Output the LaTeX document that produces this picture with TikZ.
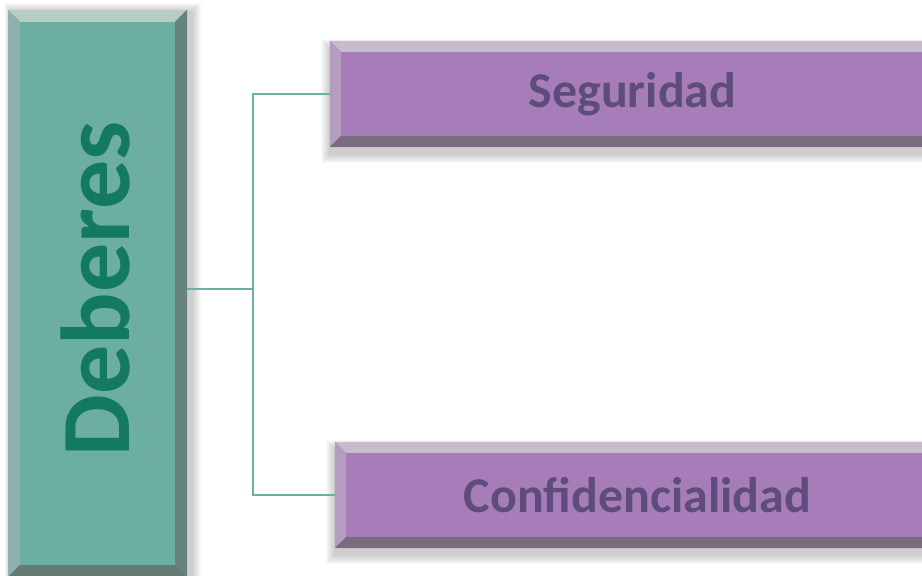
\documentclass[tikz,border=0pt]{standalone}
\usepackage{fontspec}
\setsansfont{Carlito}
\usetikzlibrary{positioning,backgrounds}

\definecolor{tealface}{HTML}{6DAEA2}
\definecolor{tealtop}{HTML}{B7CCC6}
\definecolor{tealleft}{HTML}{8FB1AB}
\definecolor{tealbottom}{HTML}{667A75}
\definecolor{tealright}{HTML}{66847D}
\definecolor{tealtext}{HTML}{137A60}
\definecolor{lilacface}{HTML}{A67DB9}
\definecolor{lilactop}{HTML}{C9BBCF}
\definecolor{lilacleft}{HTML}{B49DC0}
\definecolor{lilacbottom}{HTML}{7A6C7F}
\definecolor{lilactext}{HTML}{5E4C7D}
\definecolor{linkteal}{HTML}{6AB0A4}

% bevel edges: node, depth, top, left, bottom, right
\newcommand\bevel[6]{%
  \fill[#3] (#1.north west) -- (#1.north east) -- ([shift={(-#2,-#2)}]#1.north east) -- ([shift={(#2,-#2)}]#1.north west) -- cycle;
  \fill[#4] (#1.north west) -- (#1.south west) -- ([shift={(#2,#2)}]#1.south west) -- ([shift={(#2,-#2)}]#1.north west) -- cycle;
  \fill[#5] (#1.south west) -- (#1.south east) -- ([shift={(-#2,#2)}]#1.south east) -- ([shift={(#2,#2)}]#1.south west) -- cycle;
  \fill[#6] (#1.north east) -- (#1.south east) -- ([shift={(-#2,#2)}]#1.south east) -- ([shift={(-#2,-#2)}]#1.north east) -- cycle;
}
% soft shadow under a node
\newcommand\softshadow[3]{%
  \begin{pgfonlayer}{background}
    \foreach \s in {1,...,9}
      \fill[black,opacity=.022] ([shift={(#2-\s,#3-\s)}]#1.south west) rectangle ([shift={(#2+\s,#3+\s)}]#1.north east);
  \end{pgfonlayer}
}

\begin{document}
\begin{tikzpicture}[
    x=1pt, y=1pt
    ,every node/.append style={inner sep=0pt}
    ,debbox/.style={fill=tealface, minimum width=179pt, minimum height=567pt}
    ,dutybox/.style={fill=lilacface, minimum width=605pt, minimum height=106pt,
        text=lilactext, font=\sffamily\bfseries\fontsize{50}{60}\selectfont}
    ,link/.style={draw=linkteal, line width=2.4pt}
  ]
  \useasboundingbox (0,0) rectangle (922,576);

  \node [debbox] (deb) at (97.5,282.5) {};
  \node [dutybox] (seg) at (632.5,482) {Seguridad};
  \node [dutybox] (conf) at (637.5,81) {Confidencialidad};

  \softshadow{deb}{5}{-2}
  \softshadow{seg}{0}{-7}
  \softshadow{conf}{0}{-7}

  \bevel{deb}{12}{tealtop}{tealleft}{tealbottom}{tealright}
  \bevel{seg}{11}{lilactop}{lilacleft}{lilacbottom}{lilacbottom}
  \bevel{conf}{11}{lilactop}{lilacleft}{lilacbottom}{lilacbottom}

  \node [rotate=90, text=tealtext, font=\sffamily\bfseries\fontsize{98}{110}\selectfont]
    (debtext) at (95,287) {Deberes};

  % connectors
  \coordinate (fork) at (253,287);
  \draw [link] (deb.east |- fork) -- (fork);
  \draw [link] (seg.west) -| (fork) |- (conf.west);
\end{tikzpicture}
\end{document}
